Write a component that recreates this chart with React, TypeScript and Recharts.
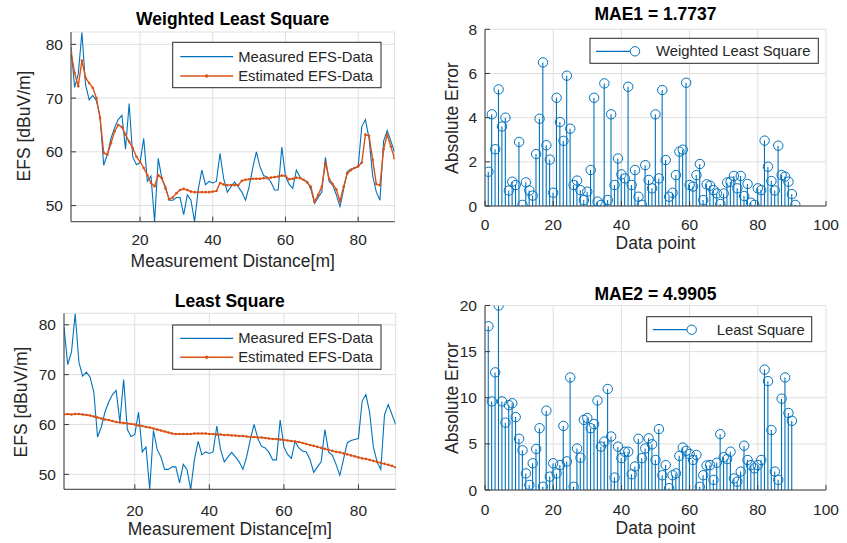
import { Bar, CartesianGrid, ComposedChart, Line, LineChart, XAxis, YAxis } from "recharts"

const FONT = '"Liberation Sans", Arial, Helvetica, sans-serif'
const BLUE = "#0072BD"
const ORANGE = "#D95319"
const INK = "#262626"
const FRAME = "#3a3a3a"
const GRID = "#dfdfdf"

// measured field strength, one value per metre (1..90)
const measuredEfs = [
  79.5, 72.0, 74.5, 82.2, 72.5, 69.7, 70.5, 69.5, 66.5, 57.5,
  59.5, 62.5, 64.5, 66.0, 66.8, 60.5, 69.0, 59.0, 57.6, 58.0,
  62.5, 54.5, 55.5, 47.0, 58.8, 55.0, 53.5, 51.0, 51.0, 51.5,
  51.5, 48.3, 52.0, 51.0, 47.0, 53.0, 56.6, 53.9, 54.5, 54.2,
  54.5, 59.7, 55.0, 52.5, 53.5, 54.4, 53.5, 52.5, 51.0, 53.5,
  57.0, 60.0, 57.2, 55.6, 55.3, 54.4, 52.9, 52.9, 60.9, 55.5,
  54.0, 53.2, 56.6, 55.3, 54.7, 54.5, 53.0, 50.4, 51.5, 52.5,
  59.0, 54.5, 53.8, 52.0, 49.8, 53.0, 56.3, 56.8, 57.0, 57.2,
  64.7, 66.0, 62.5, 55.5, 52.5, 51.0, 62.0, 64.0, 62.0, 60.0,
]

const wlsEstimate = [
  78.5, 74.7, 72.2, 77.0, 73.8, 72.8, 71.9, 70.0, 66.3, 59.8,
  59.5, 61.6, 63.8, 65.0, 64.6, 63.2, 61.9, 60.7, 59.1, 58.2,
  57.0, 55.7, 54.2, 53.6, 55.7, 55.1, 53.2, 51.2, 51.5, 52.3,
  52.9, 53.1, 52.9, 52.6, 52.5, 52.5, 52.5, 52.5, 52.5, 52.6,
  52.7, 54.2, 53.9, 53.8, 53.8, 53.8, 53.8, 54.6, 54.8, 54.9,
  55.0, 55.0, 55.0, 55.1, 55.1, 55.2, 55.3, 55.4, 55.6, 55.5,
  54.9, 55.0, 55.2, 55.1, 54.8, 54.3, 53.5, 50.7, 52.0, 53.5,
  58.0, 55.0, 54.0, 53.0, 50.8, 53.5, 56.0, 56.6, 57.0, 57.3,
  58.0, 63.2, 63.0, 58.5, 54.0, 53.8, 60.5, 63.2, 61.0, 58.8,
]

const lsEstimate = [
  62.0, 62.1, 62.0, 62.1, 62.1, 62.0, 61.9, 61.8, 61.6, 61.4,
  61.2, 61.0, 60.9, 60.7, 60.5, 60.4, 60.3, 60.2, 60.1, 60.0,
  59.8, 59.7, 59.5, 59.4, 59.2, 59.0, 58.8, 58.6, 58.4, 58.2,
  58.1, 58.1, 58.1, 58.1, 58.1, 58.2, 58.2, 58.2, 58.2, 58.1,
  58.1, 58.0, 58.0, 57.9, 57.9, 57.8, 57.8, 57.7, 57.7, 57.6,
  57.5, 57.5, 57.4, 57.4, 57.3, 57.2, 57.1, 57.1, 57.0, 56.9,
  56.8, 56.7, 56.6, 56.5, 56.3, 56.1, 55.9, 55.7, 55.5, 55.3,
  55.1, 54.9, 54.7, 54.5, 54.4, 54.2, 54.0, 53.8, 53.6, 53.4,
  53.2, 53.1, 52.9, 52.7, 52.5, 52.3, 52.1, 51.9, 51.7, 51.4,
]

const wlsError = [
  1.55, 4.15, 2.57, 5.28, 3.6, 4.0, 0.7, 1.1, 0.95, 2.9,
  0.05, 1.07, 0.7, 0.47, 2.35, 3.95, 6.5, 2.75, 2.1, 0.6,
  4.9, 3.8, 2.95, 5.9, 3.5, 0.95, 1.15, 0.72, 0.27, 0.65,
  1.63, 4.9, 0.2, 0.05, 5.55, 0.27, 4.15, 0.95, 2.15, 1.43,
  1.25, 5.4, 0.95, 1.63, 0.42, 0.05, 1.85, 1.18, 0.8, 4.15,
  1.25, 5.25, 2.08, 0.42, 0.6, 1.4, 2.46, 2.55, 5.58, 0.95,
  0.88, 1.4, 1.9, 0.27, 0.98, 0.92, 0.72, 0.57, 0.09, 0.57,
  1.06, 1.1, 1.36, 0.8, 1.36, 0.45, 1.0, 0.15, 0.05, 0.8,
  0.72, 2.96, 1.78, 1.13, 0.7, 2.73, 1.4, 1.33, 1.1, 0.54,
  0.05,
]

const lsError = [
  17.75, 9.6, 12.75, 20.0, 9.6, 7.3, 9.2, 9.4, 7.9, 5.55,
  4.3, 1.8, 0.55, 2.9, 4.45, 6.7, 0.35, 8.6, 1.45, 2.9,
  1.8, 2.7, 6.95, 3.1, 12.2, 0.35, 4.5, 3.5, 7.6, 7.8,
  6.7, 7.15, 9.7, 4.7, 5.25, 10.95, 5.8, 1.35, 4.7, 3.45,
  4.15, 4.15, 1.7, 2.55, 5.55, 3.45, 4.5, 5.6, 4.95, 3.25,
  6.6, 1.6, 2.7, 0.2, 1.6, 1.8, 3.7, 4.6, 4.25, 3.9,
  3.25, 3.8, 0.35, 1.6, 2.65, 2.7, 1.1, 2.95, 6.05, 3.55,
  3.35, 4.15, 1.25, 0.9, 2.0, 4.8, 3.25, 2.7, 2.35, 2.7,
  3.25, 13.05, 11.8, 6.5, 2.0, 1.1, 9.9, 12.2, 8.35, 7.5,
]

const efsTicksX = [20, 40, 60, 80]
const efsTicksY = [50, 60, 70, 80]
const errTicksX = [0, 20, 40, 60, 80, 100]
const wlsErrTicksY = [0, 2, 4, 6, 8]
const lsErrTicksY = [0, 5, 10, 15, 20]

const tickFont = { fill: INK, fontSize: 15.5, fontFamily: FONT }

type Margin = { top: number; right: number; bottom: number; left: number }

function efsRows(estimate: number[]) {
  return measuredEfs.map((m, i) => ({ x: i + 1, measured: m, estimated: estimate[i] }))
}

function errRows(err: number[]) {
  return err.map((e, i) => ({ x: i + 1, err: e }))
}

// MATLAB-style box: inward ticks on all four sides, labels only bottom/left
function FrameAxes({ xDomain, xTicks, yDomain, yTicks, xTickMargin }: any) {
  return [
    <XAxis
      key="xb"
      dataKey="x"
      type="number"
      domain={xDomain}
      ticks={xTicks}
      interval={0}
      allowDataOverflow
      height={30}
      tickSize={-5}
      tickMargin={xTickMargin}
      axisLine={{ stroke: FRAME }}
      tickLine={{ stroke: FRAME }}
      tick={tickFont}
    />,
    <XAxis
      key="xt"
      xAxisId="top"
      orientation="top"
      mirror
      dataKey="x"
      type="number"
      domain={xDomain}
      ticks={xTicks}
      interval={0}
      allowDataOverflow
      height={0}
      tickSize={5}
      tickFormatter={() => ""}
      axisLine={{ stroke: FRAME }}
      tickLine={{ stroke: FRAME }}
    />,
    <YAxis
      key="yl"
      domain={yDomain}
      ticks={yTicks}
      interval={0}
      allowDataOverflow
      width={60}
      tickSize={-5}
      tickMargin={13}
      axisLine={{ stroke: FRAME }}
      tickLine={{ stroke: FRAME }}
      tick={tickFont}
    />,
    <YAxis
      key="yr"
      yAxisId="right"
      orientation="right"
      mirror
      domain={yDomain}
      ticks={yTicks}
      interval={0}
      allowDataOverflow
      width={0}
      tickSize={5}
      tickFormatter={() => ""}
      axisLine={{ stroke: FRAME }}
      tickLine={{ stroke: FRAME }}
    />,
  ]
}

function EfsChart({ estimate, top, height, margin, xTickMargin }: {
  estimate: number[]; top: number; height: number; margin: Margin; xTickMargin: number
}) {
  return (
    <div style={{ position: "absolute", left: 0, top }}>
      <LineChart width={420} height={height} data={efsRows(estimate)} margin={margin}>
        <CartesianGrid stroke={GRID} />
        {FrameAxes({ xDomain: [1, 90], xTicks: efsTicksX, yDomain: [47, 82.3], yTicks: efsTicksY, xTickMargin })}
        <Line dataKey="measured" stroke={BLUE} strokeWidth={1.1} dot={false} isAnimationActive={false} />
        <Line
          dataKey="estimated"
          stroke={ORANGE}
          strokeWidth={1.4}
          dot={{ r: 1.3, fill: ORANGE, stroke: "none" }}
          isAnimationActive={false}
        />
      </LineChart>
    </div>
  )
}

function StemChart({ err, top, height, margin, yMax, yTicks, xTickMargin }: {
  err: number[]; top: number; height: number; margin: Margin; yMax: number; yTicks: number[]; xTickMargin: number
}) {
  return (
    <div style={{ position: "absolute", left: 420, top }}>
      <ComposedChart width={427} height={height} data={errRows(err)} margin={margin}>
        <CartesianGrid stroke={GRID} />
        {FrameAxes({ xDomain: [0, 100], xTicks: errTicksX, yDomain: [0, yMax], yTicks, xTickMargin })}
        <Bar dataKey="err" barSize={1.1} fill={BLUE} isAnimationActive={false} />
        <Line
          dataKey="err"
          stroke="none"
          dot={{ r: 4.7, fill: "none", stroke: BLUE, strokeWidth: 1 }}
          isAnimationActive={false}
        />
      </ComposedChart>
    </div>
  )
}

function Txt({ x, y, children, size = 17.5, bold = false, anchor = "middle", rotate = false }: any) {
  return (
    <text
      transform={`translate(${x},${y})${rotate ? " rotate(-90)" : ""}`}
      textAnchor={anchor}
      dominantBaseline="central"
      fontFamily={FONT}
      fontSize={size}
      fontWeight={bold ? "bold" : "normal"}
      fill={bold ? "#000" : INK}
    >
      {children}
    </text>
  )
}

function EfsLegend({ x, y, h, rows }: { x: number; y: number; h: number; rows: number[] }) {
  return (
    <g>
      <rect x={x} y={y} width={208.3} height={h} fill="#fff" stroke={INK} strokeWidth={1} />
      <line x1={x + 7.5} x2={x + 60.5} y1={rows[0]} y2={rows[0]} stroke={BLUE} strokeWidth={1.2} />
      <Txt x={x + 65.5} y={rows[0]} size={14.8} anchor="start">Measured EFS-Data</Txt>
      <line x1={x + 7.5} x2={x + 60.5} y1={rows[1]} y2={rows[1]} stroke={ORANGE} strokeWidth={1.4} />
      <circle cx={x + 34} cy={rows[1]} r={1.8} fill={ORANGE} />
      <Txt x={x + 65.5} y={rows[1]} size={14.8} anchor="start">Estimated EFS-Data</Txt>
    </g>
  )
}

function StemLegend({ x, y, w, label, textX }: { x: number; y: number; w: number; label: string; textX: number }) {
  const cy = y + 13
  return (
    <g>
      <rect x={x} y={y} width={w} height={25} fill="#fff" stroke={INK} strokeWidth={1} />
      <line x1={x + 6} x2={x + 40} y1={cy} y2={cy} stroke={BLUE} strokeWidth={1.2} />
      <circle cx={x + 45} cy={cy} r={4.7} fill="none" stroke={BLUE} strokeWidth={1} />
      <Txt x={textX} y={cy} size={14.8} anchor="start">{label}</Txt>
    </g>
  )
}

export default function App() {
  return (
    <div style={{ position: "absolute", left: 0, top: 0, width: 847, height: 543, background: "#fff" }}>
      <EfsChart
        estimate={wlsEstimate}
        top={0}
        height={280}
        margin={{ top: 32, right: 25.5, bottom: 28.3, left: 11 }}
        xTickMargin={17.1}
      />
      <EfsChart
        estimate={lsEstimate}
        top={280}
        height={263}
        margin={{ top: 33.3, right: 24.3, bottom: 23.7, left: 4 }}
        xTickMargin={20.5}
      />
      <StemChart
        err={wlsError}
        top={0}
        height={280}
        margin={{ top: 29.3, right: 21, bottom: 44, left: 5 }}
        yMax={8}
        yTicks={wlsErrTicksY}
        xTickMargin={17.5}
      />
      <StemChart
        err={lsError}
        top={280}
        height={263}
        margin={{ top: 25.5, right: 21, bottom: 23, left: 5 }}
        yMax={20}
        yTicks={lsErrTicksY}
        xTickMargin={18.5}
      />
      <svg
        width={847}
        height={543}
        style={{ position: "absolute", left: 0, top: 0, pointerEvents: "none" }}
      >
        <Txt x={232.7} y={18.5} bold>Weighted Least Square</Txt>
        <Txt x={232.7} y={260.5}>Measurement Distance[m]</Txt>
        <Txt x={24} y={126} rotate>EFS [dBuV/m]</Txt>
        <EfsLegend x={172.7} y={42.3} h={45.4} rows={[56.7, 76]} />

        <Txt x={229.8} y={300.8} bold>Least Square</Txt>
        <Txt x={229.8} y={529}>Measurement Distance[m]</Txt>
        <Txt x={20.7} y={402} rotate>EFS [dBuV/m]</Txt>
        <EfsLegend x={172.7} y={325} h={44.3} rows={[338.3, 357.3]} />

        <Txt x={655.5} y={14} bold>MAE1 = 1.7737</Txt>
        <Txt x={655.5} y={243}>Data point</Txt>
        <Txt x={452} y={118} rotate>Absolute Error</Txt>
        <StemLegend x={590} y={38.3} w={228.3} label="Weighted Least Square" textX={656} />

        <Txt x={655.5} y={294} bold>MAE2 = 4.9905</Txt>
        <Txt x={655.5} y={528}>Data point</Txt>
        <Txt x={452} y={398} rotate>Absolute Error</Txt>
        <StemLegend x={646.7} y={316.7} w={165} label="Least Square" textX={716.7} />
      </svg>
    </div>
  )
}
